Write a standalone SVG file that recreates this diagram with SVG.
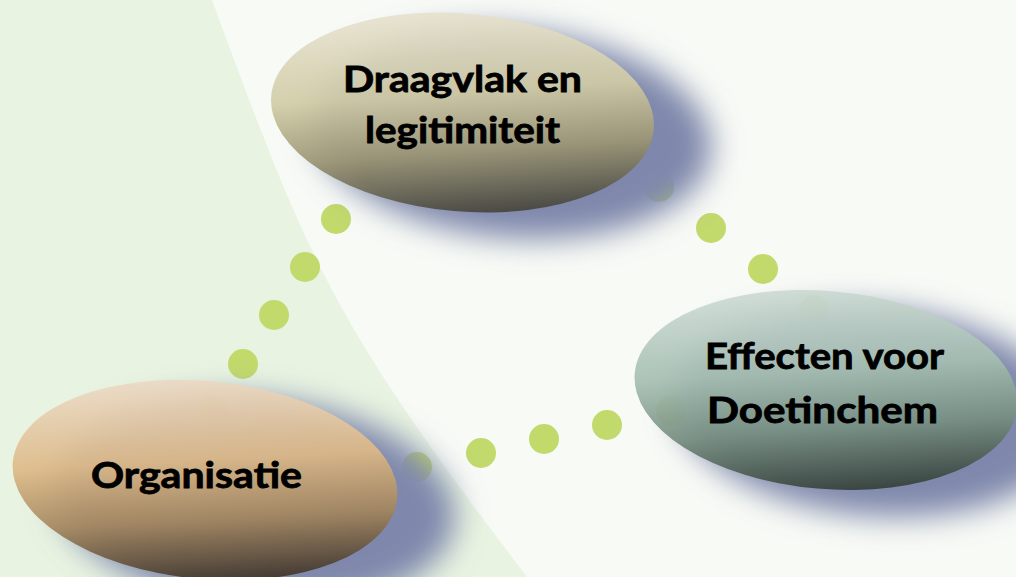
<svg xmlns="http://www.w3.org/2000/svg" width="1016" height="577" viewBox="0 0 1016 577">
  <defs>
    <style>
      .dot { fill: #c2d96c; }
      .shadow { fill: #7f88ac; filter: url(#blur); }
      .blob { opacity: 0.92; }
      .label { font-family: "Lato", "Open Sans", "Liberation Sans", sans-serif; font-weight: 700; font-size: 36px; fill: #000; stroke: #000; stroke-width: 0.8px; }
    </style>
    <filter id="blur" x="-40%" y="-40%" width="180%" height="180%">
      <feGaussianBlur stdDeviation="15"/>
    </filter>
    <linearGradient id="gTop" x1="0.3" y1="0" x2="0.6" y2="1">
      <stop offset="0" stop-color="#e8e4d3"/>
      <stop offset="0.42" stop-color="#d1cba5"/>
      <stop offset="0.7" stop-color="#9b9573"/>
      <stop offset="1" stop-color="#43423a"/>
    </linearGradient>
    <linearGradient id="gOrg" x1="0.3" y1="0" x2="0.6" y2="1">
      <stop offset="0" stop-color="#ecdccb"/>
      <stop offset="0.42" stop-color="#ddb986"/>
      <stop offset="0.7" stop-color="#a4865d"/>
      <stop offset="1" stop-color="#3c3228"/>
    </linearGradient>
    <linearGradient id="gEff" x1="0.3" y1="0" x2="0.6" y2="1">
      <stop offset="0" stop-color="#d0ddd7"/>
      <stop offset="0.42" stop-color="#a5beb1"/>
      <stop offset="0.7" stop-color="#768e80"/>
      <stop offset="1" stop-color="#323d36"/>
    </linearGradient>
  </defs>

  <rect x="0" y="0" width="1016" height="577" fill="#f7faf5"/>
  <path d="M0,0 L212,0 C308,260 329,317 527,577 L0,577 Z" fill="#e8f3e1"/>

  <g id="connectors">
    <circle class="dot" cx="213" cy="411" r="15"/>
    <circle class="dot" cx="243" cy="364" r="15"/>
    <circle class="dot" cx="274" cy="315" r="15"/>
    <circle class="dot" cx="305" cy="267" r="15"/>
    <circle class="dot" cx="336" cy="219" r="15"/>
    <circle class="dot" cx="368" cy="171" r="15"/>

    <circle class="dot" cx="609" cy="147" r="15"/>
    <circle class="dot" cx="659" cy="187" r="15"/>
    <circle class="dot" cx="711" cy="228" r="15"/>
    <circle class="dot" cx="763" cy="269" r="15"/>
    <circle class="dot" cx="814" cy="310" r="15"/>

    <circle class="dot" cx="356" cy="480" r="15"/>
    <circle class="dot" cx="417" cy="467" r="15"/>
    <circle class="dot" cx="481" cy="453" r="15"/>
    <circle class="dot" cx="544" cy="439" r="15"/>
    <circle class="dot" cx="607" cy="425" r="15"/>
    <circle class="dot" cx="671" cy="411" r="15"/>
  </g>

  <g id="node-draagvlak">
    <ellipse class="shadow" cx="512" cy="134" rx="200" ry="104" transform="rotate(5 512 134)"/>
    <ellipse class="blob" cx="462.5" cy="112.5" rx="192" ry="99" transform="rotate(5 462.5 112.5)" fill="url(#gTop)"/>
    <text class="label" x="343" y="92" textLength="239" lengthAdjust="spacingAndGlyphs">Draagvlak en</text>
    <text class="label" x="365" y="143" textLength="195" lengthAdjust="spacingAndGlyphs">legitimiteit</text>
  </g>

  <g id="node-effecten">
    <ellipse class="shadow" cx="874" cy="412" rx="200" ry="104" transform="rotate(5 874 412)"/>
    <ellipse class="blob" cx="826" cy="390" rx="192" ry="99" transform="rotate(5 826 390)" fill="url(#gEff)"/>
    <text class="label" x="705" y="369" textLength="239" lengthAdjust="spacingAndGlyphs">Effecten voor</text>
    <text class="label" x="707" y="423" textLength="231" lengthAdjust="spacingAndGlyphs">Doetinchem</text>
  </g>

  <g id="node-organisatie">
    <ellipse class="shadow" cx="255" cy="502" rx="201" ry="104" transform="rotate(5.5 255 502)"/>
    <ellipse class="blob" cx="205" cy="480" rx="193" ry="99" transform="rotate(5.5 205 480)" fill="url(#gOrg)"/>
    <text class="label" x="91" y="488" textLength="211" lengthAdjust="spacingAndGlyphs">Organisatie</text>
  </g>
</svg>
